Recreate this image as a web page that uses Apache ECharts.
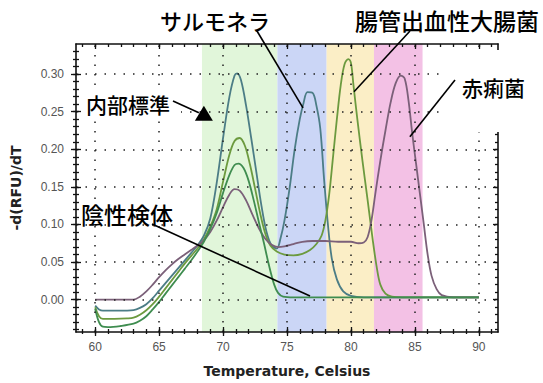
<!DOCTYPE html>
<html>
<head>
<meta charset="utf-8">
<script src="https://cdn.jsdelivr.net/npm/echarts@6/dist/echarts.min.js"></script>
<style>
  html, body { margin: 0; padding: 0; background: #fff; }
  #chart { width: 543px; height: 383px; }
</style>
</head>
<body>
<div id="chart"></div>
<script>
// Melt curves, one per sample: [temperature °C, -d(RFU)/dT]
const salmonellaCurve = [
  [60.0,-0.008],[60.3,-0.013],[60.6,-0.0145],[61.5,-0.0145],[62.5,-0.0145],[63.0,-0.014],
  [63.5,-0.011],[64.0,-0.006],[64.5,0.002],[65.0,0.012],[65.5,0.022],[66.0,0.032],
  [66.5,0.042],[67.0,0.052],[67.5,0.062],[68.0,0.072],[68.5,0.085],[69.0,0.108],
  [69.5,0.155],[70.0,0.215],[70.5,0.27],[70.9,0.298],[71.1,0.301],[71.4,0.292],
  [71.8,0.258],[72.2,0.215],[72.6,0.17],[73.0,0.125],[73.4,0.09],[73.8,0.072],
  [74.2,0.068],[74.5,0.082],[74.8,0.105],[75.2,0.148],[75.6,0.2],[76.0,0.24],
  [76.3,0.262],[76.6,0.276],[77.0,0.275],[77.3,0.258],[77.6,0.228],[77.9,0.16],
  [78.2,0.1],[78.5,0.055],[78.9,0.027],[79.4,0.011],[80.0,0.005],[81.0,0.003],[90.0,0.003]
];
const ehecCurve = [
  [60.0,-0.01],[60.3,-0.022],[60.6,-0.0255],[61.5,-0.0255],[62.5,-0.025],[63.0,-0.024],
  [63.5,-0.02],[64.0,-0.014],[64.5,-0.006],[65.0,0.004],[65.5,0.015],[66.0,0.026],
  [66.5,0.037],[67.0,0.048],[67.5,0.058],[68.0,0.068],[68.5,0.08],[69.0,0.097],
  [69.5,0.12],[70.0,0.157],[70.5,0.193],[70.9,0.211],[71.3,0.215],[71.7,0.205],
  [72.1,0.18],[72.5,0.148],[72.9,0.115],[73.3,0.088],[73.7,0.072],[74.2,0.064],
  [74.8,0.06],[75.5,0.059],[76.2,0.061],[76.8,0.066],[77.3,0.074],[77.7,0.085],
  [78.0,0.105],[78.3,0.14],[78.6,0.19],[78.9,0.24],[79.2,0.285],[79.5,0.313],
  [79.8,0.32],[80.0,0.315],[80.2,0.285],[80.5,0.24],[80.9,0.185],[81.3,0.133],
  [81.7,0.08],[82.0,0.045],[82.3,0.02],[82.7,0.008],[83.2,0.004],[84.0,0.003],[90.0,0.003]
];
const shigellaCurve = [
  [60.0,0.0],[61.0,0.0],[62.0,0.0],[63.0,0.0],[63.5,0.004],[64.0,0.011],[64.5,0.02],
  [65.0,0.03],[65.5,0.039],[66.0,0.047],[66.5,0.054],[67.0,0.06],[67.5,0.066],
  [68.0,0.072],[68.5,0.079],[69.0,0.09],[69.5,0.105],[70.0,0.123],[70.5,0.14],
  [70.9,0.147],[71.3,0.145],[71.8,0.132],[72.3,0.113],[72.8,0.095],[73.3,0.081],
  [73.8,0.073],[74.3,0.07],[74.8,0.071],[75.5,0.074],[76.2,0.077],[77.0,0.078],
  [78.0,0.078],[79.0,0.077],[80.0,0.077],[80.6,0.075],[81.0,0.076],[81.3,0.083],
  [81.6,0.105],[81.9,0.14],[82.3,0.185],[82.7,0.225],[83.1,0.262],[83.5,0.288],
  [83.9,0.298],[84.2,0.294],[84.5,0.265],[84.8,0.22],[85.1,0.18],[85.4,0.14],
  [85.7,0.1],[86.0,0.06],[86.3,0.032],[86.7,0.014],[87.1,0.006],[88.0,0.003],[90.0,0.003]
];
const negativeCurve = [
  [60.0,-0.012],[60.3,-0.03],[60.6,-0.036],[61.0,-0.0365],[62.0,-0.035],[63.0,-0.032],
  [63.5,-0.028],[64.0,-0.022],[64.5,-0.013],[65.0,-0.003],[65.5,0.008],[66.0,0.019],
  [66.5,0.03],[67.0,0.041],[67.5,0.052],[68.0,0.064],[68.5,0.077],[69.0,0.094],
  [69.5,0.115],[70.0,0.142],[70.5,0.166],[70.9,0.179],[71.2,0.181],[71.6,0.175],
  [72.0,0.158],[72.4,0.132],[72.8,0.103],[73.2,0.075],[73.6,0.045],[74.0,0.02],
  [74.3,0.009],[74.7,0.004],[75.5,0.003],[90.0,0.003]
];

// Melt-temperature window of each target (°C)
const windowNames = ['内部標準', 'サルモネラ', '腸管出血性大腸菌', '赤痢菌'];
const windowFrom  = [68.35, 74.25, 78.1, 81.8];
const windowTo    = [74.25, 78.1, 81.8, 85.6];

// Axis ticks
const xMajorTicks = [60, 65, 70, 75, 80, 85, 90];
const xMinorTicks = [59,60,61,62,63,64,65,66,67,68,69,70,71,72,73,74,75,76,77,78,79,80,81,82,83,84,85,86,87,88,89,90,91];
const yMajorTicks = [0, 0.05, 0.10, 0.15, 0.20, 0.25, 0.30];
const yMinorTicks = [-0.04,-0.03,-0.02,-0.01,0,0.01,0.02,0.03,0.04,0.05,0.06,0.07,0.08,0.09,0.10,
  0.11,0.12,0.13,0.14,0.15,0.16,0.17,0.18,0.19,0.20,0.21,0.22,0.23,0.24,0.25,0.26,0.27,0.28,0.29,
  0.30,0.31,0.32,0.33];

// ---- styling ----
const X_MIN = 58.5, X_MAX = 91.5, Y_MIN = -0.043, Y_MAX = 0.34;
const bandColors = ['#e1f6da', '#cbd6f6', '#fbeec6', '#f3c1e5'];
const curveStyles = [
  { name: 'サルモネラ', data: salmonellaCurve, color: '#4c7d86' },
  { name: '腸管出血性大腸菌', data: ehecCurve, color: '#6c9a3f' },
  { name: '赤痢菌', data: shigellaCurve, color: '#7b6079' },
  { name: '陰性検体', data: negativeCurve, color: '#3f8d50' }
];
const axisColor = '#111';
const labelFont = { fontFamily: 'Liberation Sans', fontSize: 12, color: '#555' };

function tickAxis(position, isX, values, length, inside, extra) {
  return Object.assign({
    type: 'value',
    position: position,
    min: isX ? X_MIN : Y_MIN,
    max: isX ? X_MAX : Y_MAX,
    z: 6,
    axisLine: { show: false, onZero: false },
    axisTick: { show: true, inside: inside, length: length, customValues: values,
                lineStyle: { color: axisColor, width: 1.3 } },
    axisLabel: { show: false },
    splitLine: { show: false }
  }, extra || {});
}

const xAxes = [
  tickAxis('bottom', true, xMajorTicks, 4, false, {
    axisLine: { show: true, onZero: false, lineStyle: { color: axisColor, width: 1.6 } },
    axisLabel: Object.assign({ show: true, margin: 9, customValues: xMajorTicks }, labelFont),
    name: 'Temperature, Celsius',
    nameLocation: 'middle',
    nameGap: 32,
    nameTextStyle: { fontFamily: 'DejaVu Sans', fontWeight: 'bold', fontSize: 14, color: '#222' }
  }),
  tickAxis('bottom', true, xMajorTicks, 5, true),
  tickAxis('bottom', true, xMinorTicks, 2, false),
  tickAxis('bottom', true, xMinorTicks, 3, true),
  tickAxis('top', true, xMajorTicks, 5, true, {
    axisLine: { show: true, onZero: false, lineStyle: { color: axisColor, width: 1.6 } }
  }),
  tickAxis('top', true, xMinorTicks, 3, true)
];
const yAxes = [
  tickAxis('left', false, yMajorTicks, 5, false, {
    axisLine: { show: true, onZero: false, lineStyle: { color: axisColor, width: 1.6 } },
    axisLabel: Object.assign({ show: true, margin: 12, customValues: yMajorTicks,
                               formatter: v => v.toFixed(2) }, labelFont),
    name: '-d(RFU)/dT',
    nameLocation: 'middle',
    nameGap: 53,
    nameTextStyle: { fontFamily: 'DejaVu Sans', fontWeight: 'bold', fontSize: 14, color: '#222' }
  }),
  tickAxis('left', false, yMajorTicks, 5, true),
  tickAxis('left', false, yMinorTicks, 3, false),
  tickAxis('left', false, yMinorTicks, 3, true),
  tickAxis('right', false, yMajorTicks, 5, true, {
    axisLine: { show: true, onZero: false, lineStyle: { color: axisColor, width: 1.6 } }
  }),
  tickAxis('right', false, yMinorTicks, 3, true)
];

const series = [
  {
    // target windows
    type: 'line', data: [], z: 1, silent: true,
    markArea: {
      silent: true,
      data: windowNames.map((n, i) => [
        { name: '', xAxis: windowFrom[i], itemStyle: { color: bandColors[i] } },
        { xAxis: windowTo[i] }
      ])
    }
  },
  {
    // dotted grid at the major ticks
    type: 'line', data: [], z: 2, silent: true,
    markLine: {
      silent: true, symbol: ['none', 'none'], label: { show: false },
      lineStyle: { color: '#222', width: 1.5, type: [1.5, 8] },
      emphasis: { disabled: true },
      data: xMajorTicks.map(v => ({ xAxis: v })).concat(yMajorTicks.map(v => ({ yAxis: v })))
    }
  }
].concat(curveStyles.map(c => ({
  name: c.name,
  type: 'line',
  data: c.data,
  z: 3,
  showSymbol: false,
  smooth: 0.35,
  lineStyle: { color: c.color, width: 1.8 },
  itemStyle: { color: c.color }
})));

const chart = echarts.init(document.getElementById('chart'), null, { renderer: 'svg' });
chart.setOption({
  animation: false,
  backgroundColor: '#fff',
  grid: { left: 76, top: 44, right: 45, bottom: 50 },
  xAxis: xAxes,
  yAxis: yAxes,
  series: series
});

// Callout labels with leader lines
const callouts = [
  { text: 'サルモネラ', size: 22, x: 160, y: 20, from: [257, 31], target: [76.25, 0.255] },
  { text: '腸管出血性大腸菌', size: 23, x: 355, y: 20, from: [410, 31], target: [80.24, 0.2765] },
  { text: '赤痢菌', size: 21, x: 462, y: 87, from: [455, 80], target: [84.61, 0.2168] },
  { text: '陰性検体', size: 23, x: 81, y: 214, from: [152, 224], target: [76.8, 0.0048] },
  { text: '内部標準', size: 21, x: 86, y: 104, from: [173, 101], target: [68.5, 0.258], arrow: true }
];
const toPx = p => chart.convertToPixel({ xAxisIndex: 0, yAxisIndex: 0 }, p);

const graphics = [
  // clear backgrounds behind the in-plot labels
  { type: 'rect', z: 40, shape: { x: 442, y: 50, width: 101, height: 82 }, style: { fill: '#fff' } },
  { type: 'rect', z: 40, shape: { x: 82, y: 92, width: 99, height: 29 }, style: { fill: '#fff' } },
  { type: 'rect', z: 40, shape: { x: 82, y: 203, width: 96, height: 20 }, style: { fill: '#fff' } }
];
callouts.forEach(c => {
  const t = toPx(c.target);
  let end = t;
  if (c.arrow) {
    end = [t[0] - 5, t[1] + 7];
    graphics.push({
      type: 'polygon', z: 50,
      shape: { points: [[t[0], t[1]], [t[0] - 9, t[1] + 15], [t[0] + 9, t[1] + 15]] },
      style: { fill: '#000' }
    });
  }
  graphics.push({
    type: 'line', z: 50,
    shape: { x1: c.from[0], y1: c.from[1], x2: end[0], y2: end[1] },
    style: { stroke: '#000', lineWidth: 1.6 }
  });
  graphics.push({
    type: 'text', z: 50, x: c.x, y: c.y,
    style: {
      text: c.text, fill: '#000',
      font: '500 ' + c.size + 'px "Noto Sans CJK JP"',
      align: 'left', verticalAlign: 'middle'
    }
  });
});
chart.setOption({ graphic: graphics });
</script>
</body>
</html>
